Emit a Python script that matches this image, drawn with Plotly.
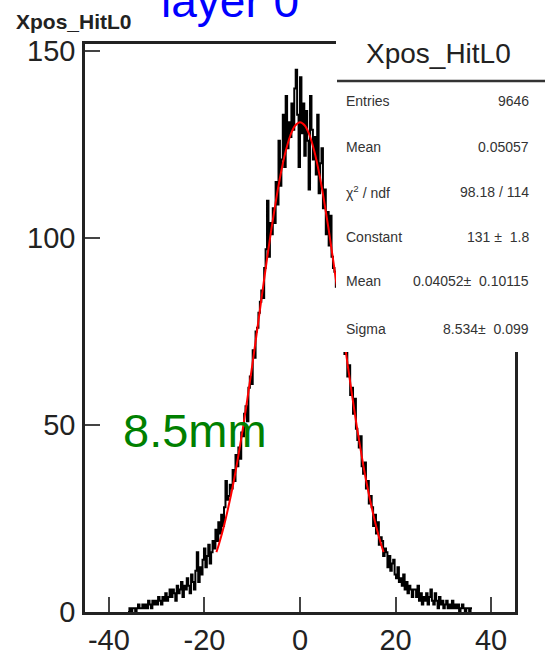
import numpy as np
import plotly.graph_objects as go

# ---------------- data ----------------
hist_name = "Xpos_HitL0"
bin_lo = -36.0          # low edge of first listed bin
bin_width = 0.3         # histogram bin width
# counts per bin, from x=-36.0 to x=+36.0 (240 bins)
counts_left = [
    0, 1, 0, 1, 1, 0, 1, 2, 1, 1,
    2, 1, 2, 1, 3, 2, 1, 3, 2, 3,
    2, 4, 3, 2, 4, 3, 5, 3, 4, 6,
    4, 6, 5, 3, 7, 5, 6, 8, 4, 7,
    6, 9, 7, 5, 10, 8, 6, 11, 16, 8,
    12, 10, 14, 17, 12, 15, 18, 13, 16, 19,
    17, 22, 19, 24, 21, 26, 23, 28, 35, 30,
    31, 34, 33, 38, 35, 42, 39, 44, 41, 48,
    47, 53, 55, 51, 60, 63, 61, 70, 68, 75,
    76, 80, 83, 86, 84, 92, 97, 110, 95, 104,
    101, 108, 104, 115, 109, 126, 114, 121, 133, 119,
    138, 124, 131, 127, 136, 129, 140, 145, 133, 119,
]
counts_right = [
    143, 128, 136, 122, 134, 126, 113, 138, 129, 121,
    127, 117, 133, 112, 120, 124, 108, 113, 101, 107,
    98, 106, 95, 92, 91, 87, 85, 79, 83, 74,
    75, 69, 71, 63, 66, 58, 60, 53, 57, 49,
    46, 44, 47, 39, 37, 40, 33, 35, 29, 31,
    28, 23, 26, 21, 24, 18, 20, 19, 15, 17,
    16, 12, 15, 11, 13, 14, 10, 9, 12, 8,
    9, 7, 10, 6, 8, 5, 7, 6, 4, 6,
    6, 4, 7, 3, 5, 2, 4, 3, 5, 2,
    4, 6, 3, 2, 5, 3, 1, 4, 2, 3,
    1, 2, 3, 1, 2, 1, 3, 1, 2, 1,
    2, 0, 1, 2, 1, 0, 1, 1, 0, 1,
]
# Gaussian fit curve
fit_x = [-17.5, -17, -16, -15, -14, -13, -12, -11, -10, -9, -8, -7, -6, -5, -4, -3, -2, -1, 0,
         1, 2, 3, 4, 5, 6, 7, 8, 9, 10, 11, 12, 13, 14, 15, 16, 17, 17.5]
fit_y = [16.0, 18.0, 22.6, 28.0, 34.1, 41.1, 48.7, 57.1, 65.9, 75.1, 84.4, 93.6, 102.3, 110.3, 117.4,
         123.2, 127.5, 130.1, 131.0, 130.1, 127.5, 123.2, 117.4, 110.3, 102.3, 93.6, 84.4, 75.1,
         65.9, 57.1, 48.7, 41.1, 34.1, 28.0, 22.6, 18.0, 16.0]

x_tick_vals = [-40, -20, 0, 20, 40]
x_tick_text = ["-40", "-20", "0", "20", "40"]
y_tick_vals = [0, 50, 100, 150]
y_tick_text = ["0", "50", "100", "150"]
x_range = [-45, 45]
y_range = [0, 151.9]

stat_labels = ["Entries", "Mean", "\u03c7<sup>2</sup> / ndf", "Constant", "Mean", "Sigma"]
stat_values = ["9646", "0.05057", "98.18 / 114", "131\u00a0\u00b1\u00a0\u00a01.8",
               "0.04052\u00b1\u00a0\u00a00.10115", "8.534\u00b1\u00a0\u00a00.099"]
label_layer = "layer 0"
label_sigma = "8.5mm"

# ---------------- figure ----------------
counts = counts_left + counts_right
edges = [round(bin_lo + i * bin_width, 3) for i in range(len(counts) + 1)]
step_x = [edges[0]] + edges
step_y = [0] + counts + [counts[-1]]

W, H = 552, 660
L, R, T, B = 85, 515, 44, 612


def px(xp):
    return (xp - L) / (R - L)


def py(yp):
    return (B - yp) / (B - T)


fig = go.Figure()
fig.add_trace(go.Scatter(x=step_x, y=step_y, mode="lines", line=dict(color="black", width=2, shape="hv"),
                         hoverinfo="skip"))
fig.add_trace(go.Scatter(x=fit_x, y=fit_y, mode="lines", line=dict(color="#ff0000", width=2, shape="spline"),
                         hoverinfo="skip"))

axis_common = dict(showline=True, linecolor="#222", linewidth=2.5, mirror=True, ticks="inside",
                   ticklen=15, tickwidth=2, tickcolor="#444", showgrid=False, zeroline=False,
                   automargin=False,
                   tickfont=dict(family="Liberation Sans", size=29, color="#222"))
fig.update_xaxes(range=x_range, tickvals=x_tick_vals, ticktext=x_tick_text, ticklabelstandoff=0, **axis_common)
fig.update_yaxes(range=y_range, tickvals=y_tick_vals, ticktext=y_tick_text, ticklabelstandoff=1, **axis_common)

shapes = [
    dict(type="rect", xref="paper", yref="paper", x0=px(336), x1=px(549), y0=py(352), y1=py(28),
         fillcolor="white", line=dict(width=0), layer="above"),
    dict(type="line", xref="paper", yref="paper", x0=px(337), x1=px(545), y0=py(81), y1=py(81),
         line=dict(color="#333", width=2.5), layer="above"),
]

row_y = [101.5, 147, 192, 237, 281, 329]
ann = []
for lab, val, yy in zip(stat_labels, stat_values, row_y):
    ann.append(dict(text=lab, x=px(344), y=py(yy), xref="paper", yref="paper", xanchor="left",
                    yanchor="middle", showarrow=False,
                    font=dict(family="Liberation Sans", size=14, color="#333")))
    ann.append(dict(text=val, x=px(531), y=py(yy), xref="paper", yref="paper", xanchor="right",
                    yanchor="middle", showarrow=False,
                    font=dict(family="Liberation Sans", size=14, color="#333")))
ann.append(dict(text=hist_name, x=px(438), y=py(53), xref="paper", yref="paper", xanchor="center",
                yanchor="middle", showarrow=False, font=dict(family="Liberation Sans", size=28, color="#222")))
ann.append(dict(text="<b>" + hist_name + "</b>", x=px(14), y=py(22), xref="paper", yref="paper",
                xanchor="left", yanchor="middle", showarrow=False,
                font=dict(family="Liberation Sans", size=21, color="#222")))
ann.append(dict(text=label_layer, x=px(230), y=py(1), xref="paper", yref="paper", xanchor="center",
                yanchor="middle", showarrow=False, font=dict(family="Liberation Sans", size=46, color="#0000ff")))
ann.append(dict(text=label_sigma, x=px(195), y=py(431), xref="paper", yref="paper", xanchor="center",
                yanchor="middle", showarrow=False, font=dict(family="Liberation Sans", size=47, color="#008000")))

fig.update_layout(width=W, height=H, margin=dict(l=L, r=W - R, t=T, b=H - B, pad=0, autoexpand=False),
                  plot_bgcolor="white", paper_bgcolor="white", showlegend=False,
                  shapes=shapes, annotations=ann)

fig.write_html("out.html", config={"displayModeBar": False},
               post_script="document.body.style.margin='0';document.body.style.overflow='hidden';")
